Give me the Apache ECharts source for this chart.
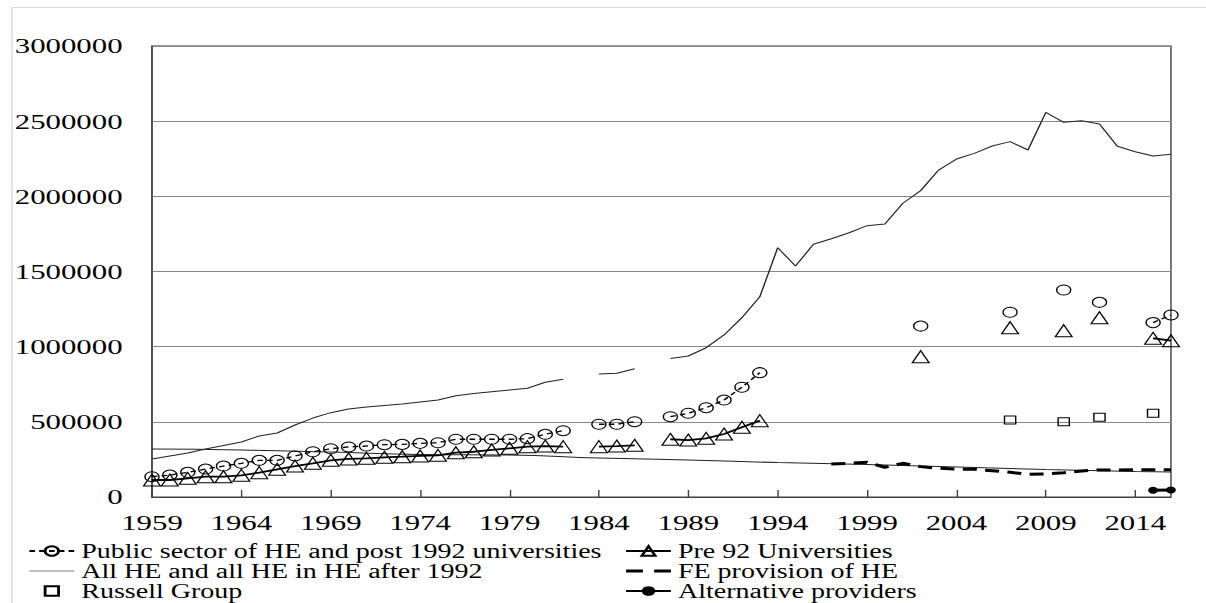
<!DOCTYPE html>
<html>
<head>
<meta charset="utf-8">
<script src="https://cdn.jsdelivr.net/npm/echarts@6/dist/echarts.min.js"></script>
<style>
  html, body { margin: 0; padding: 0; background: #fff; overflow: hidden; }
  /* the source image is stretched horizontally, so draw narrow and stretch */
  #main { width: 861px; height: 603px; transform: scaleX(1.4007); transform-origin: 0 0; }
</style>
</head>
<body>
<div id="main"></div>
<script>
  var years = ['1959','1960','1961','1962','1963','1964','1965','1966','1967','1968',
    '1969','1970','1971','1972','1973','1974','1975','1976','1977','1978',
    '1979','1980','1981','1982','1983','1984','1985','1986','1987','1988',
    '1989','1990','1991','1992','1993','1994','1995','1996','1997','1998',
    '1999','2000','2001','2002','2003','2004','2005','2006','2007','2008',
    '2009','2010','2011','2012','2013','2014','2015','2016'];

  var yTicks = [0, 500000, 1000000, 1500000, 2000000, 2500000, 3000000];

  // Public sector of HE and post 1992 universities
  var publicSector = [135000,146000,164000,186000,206000,224000,244000,244000,273000,301000,
    321000,333000,339000,348000,350000,357000,361000,384000,384000,384000,
    384000,388000,417000,441000,null,484000,484000,501000,null,534000,
    557000,594000,645000,730000,827000,null,null,null,null,null,
    null,null,null,1137000,null,null,null,null,1229000,null,
    null,1377000,null,1295000,null,null,1160000,1211000];

  // Pre 92 Universities
  var pre92 = [113000,113000,124000,135000,135000,144000,162000,184000,206000,224000,
    244000,253000,257000,264000,268000,273000,277000,295000,301000,313000,
    324000,335000,339000,335000,null,335000,339000,344000,null,384000,
    379000,390000,419000,464000,508000,null,null,null,null,null,
    null,null,null,933000,null,null,null,null,1126000,null,
    null,1106000,null,1193000,null,null,1056000,1040000];

  // All HE and all HE in HE after 1992
  var allHE = [253000,273000,293000,319000,343000,366000,406000,426000,479000,525000,
    561000,585000,599000,609000,619000,632000,645000,674000,688000,700000,
    712000,723000,763000,783000,null,818000,823000,853000,null,922000,
    938000,993000,1078000,1193000,1332000,1658000,1537000,1681000,1718000,1758000,
    1805000,1816000,1954000,2038000,2175000,2248000,2286000,2335000,2364000,2308000,
    2559000,2492000,2503000,2481000,2333000,2297000,2268000,2280000];

  // FE provision of HE  [year, value]
  var fePairs = [['1997',220000],['1998',224000],['1999',231000],['2000',198000],['2001',224000],
    ['2002',202000],['2003',191000],['2004',186000],['2005',184000],['2006',175000],
    ['2007',164000],['2008',151000],['2009',153000],['2010',162000],['2011',173000],
    ['2012',180000],['2013',180000],['2014',182000],['2015',182000],['2016',182000]];

  var russellPairs = [['2007',512000],['2010',501000],['2012',530000],['2015',557000]];

  var altPairs = [['2015',45000],['2016',47000]];

  // thin declining line without legend entry
  var trendPairs = [['1959',319000],['1964',313000],['1969',299000],['1974',283000],['1979',279000],
    ['1984',259000],['1989',246000],['1994',229000],['1999',216000],['2004',200000],
    ['2009',183000],['2014',170000],['2016',166000]];

  function fill(pairs) {
    var out = years.map(function () { return null; });
    pairs.forEach(function (p) { out[years.indexOf(p[0])] = p[1]; });
    return out;
  }

  var FONT = 'Liberation Serif';
  var names = ['Public sector of HE and post 1992 universities', 'Pre 92 Universities',
    'All HE and all HE in HE after 1992', 'FE provision of HE', 'Russell Group', 'Alternative providers'];

  var hollow = { color: 'transparent', borderColor: '#000', borderWidth: 1 };

  var legendBase = {
    orient: 'vertical', top: 541, height: 90, padding: 0,
    itemWidth: 32, itemHeight: 12, itemGap: 0,
    textStyle: { fontFamily: FONT, fontSize: 20, lineHeight: 20, color: '#000' }
  };

  var chart = echarts.init(document.getElementById('main'), null, { renderer: 'svg' });
  chart.setOption({
    animation: false,
    textStyle: { fontFamily: FONT, color: '#000' },
    graphic: [{
      type: 'rect', silent: true,
      shape: { x: 8.5, y: 7.5, width: 1000, height: 700 },
      style: { fill: 'none', stroke: '#d9d9d9', lineWidth: 1 }
    }],
    grid: {
      left: 108.5, right: 25, top: 46, bottom: 106,
      show: true, borderColor: '#404040', borderWidth: 1
    },
    legend: [Object.assign({}, legendBase, {
      left: 20,
      data: [
        names[0],
        { name: names[2], icon: 'path://M0,0h32v1h-32z', itemStyle: { color: '#808080' } },
        names[4]
      ]
    }), Object.assign({}, legendBase, {
      left: 446,
      data: [
        names[1],
        { name: names[3], icon: 'path://M0,0h12v3h-12zM20,0h12v3h-12z', itemStyle: { color: '#000' } },
        names[5]
      ]
    })],
    xAxis: {
      type: 'category',
      data: years,
      boundaryGap: false,
      axisLine: { lineStyle: { color: '#404040', width: 1 } },
      axisTick: { inside: true, length: 7, interval: 4, lineStyle: { color: '#404040' } },
      axisLabel: { interval: 4, margin: 15, fontSize: 22, fontFamily: FONT, color: '#000' },
      splitLine: { show: false }
    },
    yAxis: {
      type: 'value',
      min: yTicks[0], max: yTicks[yTicks.length - 1], interval: yTicks[1] - yTicks[0],
      axisLine: { show: true, lineStyle: { color: '#404040', width: 1 } },
      axisTick: { show: false },
      axisLabel: {
        margin: 21, fontSize: 22, fontFamily: FONT, color: '#000',
        formatter: function (v) { return String(v); }
      },
      splitLine: { lineStyle: { color: '#888', width: 1 } }
    },
    series: [
      {
        name: 'trend', type: 'line', data: fill(trendPairs), connectNulls: true, smooth: true,
        symbol: 'none', lineStyle: { color: '#222', width: 1 }, z: 1
      },
      {
        name: names[2], type: 'line', data: allHE, symbol: 'none',
        itemStyle: { color: '#222' }, lineStyle: { color: '#222', width: 1 }, z: 2
      },
      {
        name: names[0], type: 'line', data: publicSector,
        symbol: 'circle', symbolSize: 10, showAllSymbol: true,
        itemStyle: hollow, lineStyle: { color: '#000', width: 1.3, type: [4, 3] }, z: 3
      },
      {
        name: names[1], type: 'line', data: pre92,
        symbol: 'triangle', symbolSize: 12, showAllSymbol: true,
        itemStyle: hollow, lineStyle: { color: '#000', width: 1.8 }, z: 3
      },
      {
        name: names[3], type: 'line', data: fill(fePairs), symbol: 'none',
        itemStyle: { color: '#000' }, lineStyle: { color: '#000', width: 3, type: [10, 6] }, z: 3
      },
      {
        name: names[4], type: 'line', data: fill(russellPairs),
        symbol: 'rect', symbolSize: 8, showAllSymbol: true,
        itemStyle: hollow, lineStyle: { width: 0, opacity: 0 }, z: 3
      },
      {
        name: names[5], type: 'line', data: fill(altPairs),
        symbol: 'circle', symbolSize: 7, showAllSymbol: true,
        itemStyle: { color: '#000' }, lineStyle: { color: '#000', width: 3 }, z: 4
      }
    ]
  });
</script>
</body>
</html>
